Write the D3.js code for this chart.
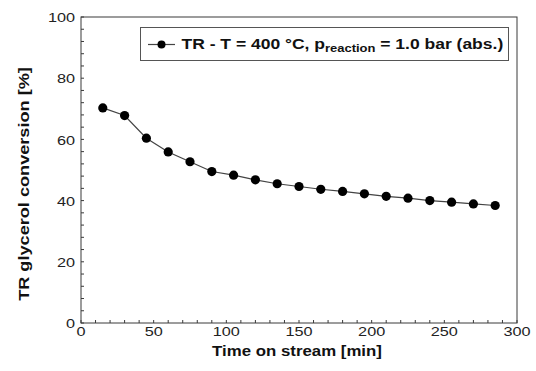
<!DOCTYPE html>
<html>
<head>
<meta charset="utf-8">
<script src="https://cdn.jsdelivr.net/npm/d3@7"></script>
<style>
  html, body { margin: 0; padding: 0; background: #fff; }
  svg { display: block; font-family: "Liberation Sans", Arial, Helvetica, sans-serif; }
</style>
</head>
<body>
<svg id="chart" width="536" height="371"></svg>
<script>
// Time on stream [min]
const timeMin = [15, 30, 45, 60, 75, 90, 105, 120, 135, 150, 165, 180, 195, 210, 225, 240, 255, 270, 285];
// TR glycerol conversion [%]
const conversion = [70.3, 67.8, 60.4, 55.9, 52.7, 49.5, 48.3, 46.8, 45.5, 44.6, 43.7, 43.0, 42.2, 41.4, 40.8, 40.0, 39.5, 38.9, 38.4];
const xTicks = [0, 50, 100, 150, 200, 250, 300];
const yTicks = [0, 20, 40, 60, 80, 100];

const svg = d3.select("#chart");
const m = { left: 81, right: 517, top: 17, bottom: 323 };

const x = d3.scaleLinear().domain([0, 300]).range([m.left, m.right]);
const y = d3.scaleLinear().domain([0, 100]).range([m.bottom, m.top]);

const frameColor = "#3a3a3a";
const textStretch = 1.25;   // wide Helvetica-like lettering

// places a text label inside a transformed group, widened along its reading direction
function label(parent, px, py, str, opts) {
  const gg = parent.append("g");
  const t = gg.append("text")
    .attr("text-anchor", opts.anchor || "start")
    .attr("font-size", opts.size)
    .attr("font-weight", opts.weight || "normal")
    .attr("fill", opts.fill || "#111");
  if (typeof str === "function") str(t); else t.text(str);
  let sx = opts.stretch || 1;
  if (opts.width) sx = opts.width / t.node().getComputedTextLength();
  gg.attr("transform", `translate(${px},${py}) rotate(${opts.rotate || 0}) scale(${sx},1)`);
  return gg;
}

// minor ticks (inside the frame)
const g = svg.append("g");
g.selectAll(".xminor").data(d3.range(0, 301, 10)).join("line")
  .attr("x1", d => x(d)).attr("x2", d => x(d))
  .attr("y1", m.bottom).attr("y2", m.bottom - 3)
  .attr("stroke", frameColor).attr("stroke-width", 1);
g.selectAll(".yminor").data(d3.range(0, 101, 4)).join("line")
  .attr("x1", m.left).attr("x2", m.left + 3)
  .attr("y1", d => y(d)).attr("y2", d => y(d))
  .attr("stroke", frameColor).attr("stroke-width", 1);

// tick labels
const tl = svg.append("g");
xTicks.forEach(d => label(tl, x(d), 335.5, String(d),
  { anchor: "middle", size: 13, stretch: textStretch, fill: "#222" }));
yTicks.forEach(d => label(tl, 75, y(d) + 5.2, String(d),
  { anchor: "end", size: 13, stretch: textStretch, fill: "#222" }));

// frame
svg.append("rect")
  .attr("x", m.left).attr("y", m.top)
  .attr("width", m.right - m.left).attr("height", m.bottom - m.top)
  .attr("fill", "none").attr("stroke", frameColor).attr("stroke-width", 1);

// axis titles
label(svg, 297, 356, "Time on stream [min]",
  { anchor: "middle", size: 14, weight: "bold", width: 170 });
label(svg, 29, 184, "TR glycerol conversion [%]",
  { anchor: "middle", size: 14, weight: "bold", width: 234, rotate: -90 });

// data series
const pts = timeMin.map((t, i) => [t, conversion[i]]);
svg.append("path")
  .datum(pts)
  .attr("fill", "none").attr("stroke", "#444").attr("stroke-width", 1.2)
  .attr("d", d3.line().x(d => x(d[0])).y(d => y(d[1])));
svg.append("g").selectAll("circle").data(pts).join("circle")
  .attr("cx", d => x(d[0])).attr("cy", d => y(d[1]))
  .attr("r", 4.6).attr("fill", "#000");

// legend
const lg = svg.append("g");
lg.append("rect")
  .attr("x", 140.5).attr("y", 27.5).attr("width", 368).attr("height", 33)
  .attr("fill", "#fff").attr("stroke", "#555").attr("stroke-width", 1);
lg.append("line")
  .attr("x1", 148).attr("x2", 175).attr("y1", 44.5).attr("y2", 44.5)
  .attr("stroke", "#444").attr("stroke-width", 1.2);
lg.append("circle").attr("cx", 161.5).attr("cy", 44.5).attr("r", 4).attr("fill", "#000");
label(lg, 181.5, 48.8, t => {
  t.append("tspan").text("TR - T = 400 \u00B0C, p");
  t.append("tspan").attr("font-size", 11.5).attr("dy", 3).text("reaction");
  t.append("tspan").attr("dy", -3).text(" = 1.0 bar (abs.)");
}, { size: 15.5, weight: "bold", width: 322 });
</script>
</body>
</html>
